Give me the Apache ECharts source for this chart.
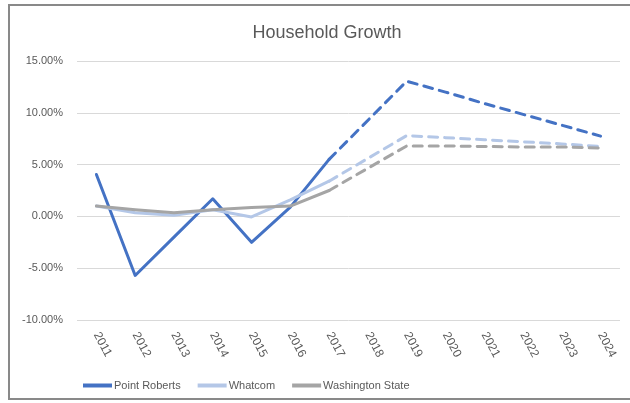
<!DOCTYPE html>
<html>
<head>
<meta charset="utf-8">
<title>Household Growth</title>
<script src="https://cdn.jsdelivr.net/npm/echarts@6/dist/echarts.min.js"></script>
<style>
    html, body {
        margin: 0;
        padding: 0;
        background: #fff;
    }
    #chart {
        width: 630px;
        height: 403px;
    }
</style>
</head>
<body>
<div id="chart"></div>
<script>
// years on the category axis
const years = ["2011", "2012", "2013", "2014", "2015", "2016", "2017",
    "2018", "2019", "2020", "2021", "2022", "2023", "2024"];

// actuals (solid part), percent
const pointRoberts = [4.05, -5.7, -2.0, 1.7, -2.5, 0.9, 5.5];
const whatcom = [1.0, 0.35, 0.1, 0.65, -0.05, 1.6, 3.4];
const washington = [1.0, 0.65, 0.35, 0.65, 0.85, 1.0, 2.5];

// projections (dashed part), starts at 2017, 2018 has no value
const pointRobertsProj = [null, null, null, null, null, null, 5.5, null, 13.05, 12.0, 10.9, 9.85, 8.8, 7.75];
const whatcomProj = [null, null, null, null, null, null, 3.4, null, 7.8, 7.6, 7.4, 7.2, 7.0, 6.75];
const washingtonProj = [null, null, null, null, null, null, 2.5, null, 6.8, 6.8, 6.75, 6.7, 6.7, 6.6];

const blue = "#4472C4";
const lightBlue = "#B4C7E7";
const gray = "#A5A5A5";

const chart = echarts.init(document.getElementById("chart"));

function solid(name, data, color) {
    return {
        name: name,
        type: "line",
        data: data,
        symbol: "none",
        lineStyle: { color: color, width: 3, cap: "round", join: "round" },
        itemStyle: { color: color },
        z: 3,
    };
}

function dashed(name, data, color) {
    return {
        name: name,
        type: "line",
        data: data,
        symbol: "none",
        connectNulls: true,
        lineStyle: { color: color, width: 3, type: [9, 7], cap: "round" },
        itemStyle: { color: color },
        z: 2,
    };
}

chart.setOption({
    animation: false,
    textStyle: {
        fontFamily: "Liberation Sans, Arial, sans-serif",
    },
    title: {
        text: "Household Growth",
        left: 322,
        textAlign: "center",
        top: 19,
        textStyle: {
            color: "#595959",
            fontSize: 18,
            fontWeight: "normal",
        },
    },
    graphic: [
        {
            type: "rect",
            shape: { x: 9, y: 5, width: 700, height: 394 },
            style: { fill: "none", stroke: "#898989", lineWidth: 2 },
            silent: true,
        },
    ],
    legend: {
        data: ["Point Roberts", "Whatcom", "Washington State"],
        left: 78,
        top: 375,
        icon: "rect",
        itemWidth: 29,
        itemHeight: 4,
        itemGap: 17,
        textStyle: { color: "#595959", fontSize: 11, padding: [0, 0, 0, -3] },
    },
    grid: {
        left: 77,
        right: 10,
        top: 61,
        bottom: 83,
    },
    xAxis: {
        type: "category",
        data: years,
        boundaryGap: true,
        axisLine: { show: false, onZero: false },
        axisTick: { show: false },
        axisLabel: {
            rotate: -62,
            color: "#595959",
            fontSize: 12,
            margin: 13,
            interval: 0,
        },
    },
    yAxis: {
        type: "value",
        min: -10,
        max: 15,
        interval: 5,
        axisLine: { show: false },
        axisTick: { show: false },
        axisLabel: {
            color: "#595959",
            fontSize: 11,
            margin: 14,
            formatter: (v) => v.toFixed(2) + "%",
        },
        splitLine: { lineStyle: { color: "#D9D9D9", width: 1 } },
    },
    series: [
        solid("Point Roberts", pointRoberts, blue),
        solid("Whatcom", whatcom, lightBlue),
        solid("Washington State", washington, gray),
        dashed("Point Roberts projection", pointRobertsProj, blue),
        dashed("Whatcom projection", whatcomProj, lightBlue),
        dashed("Washington State projection", washingtonProj, gray),
    ],
});
</script>
</body>
</html>
